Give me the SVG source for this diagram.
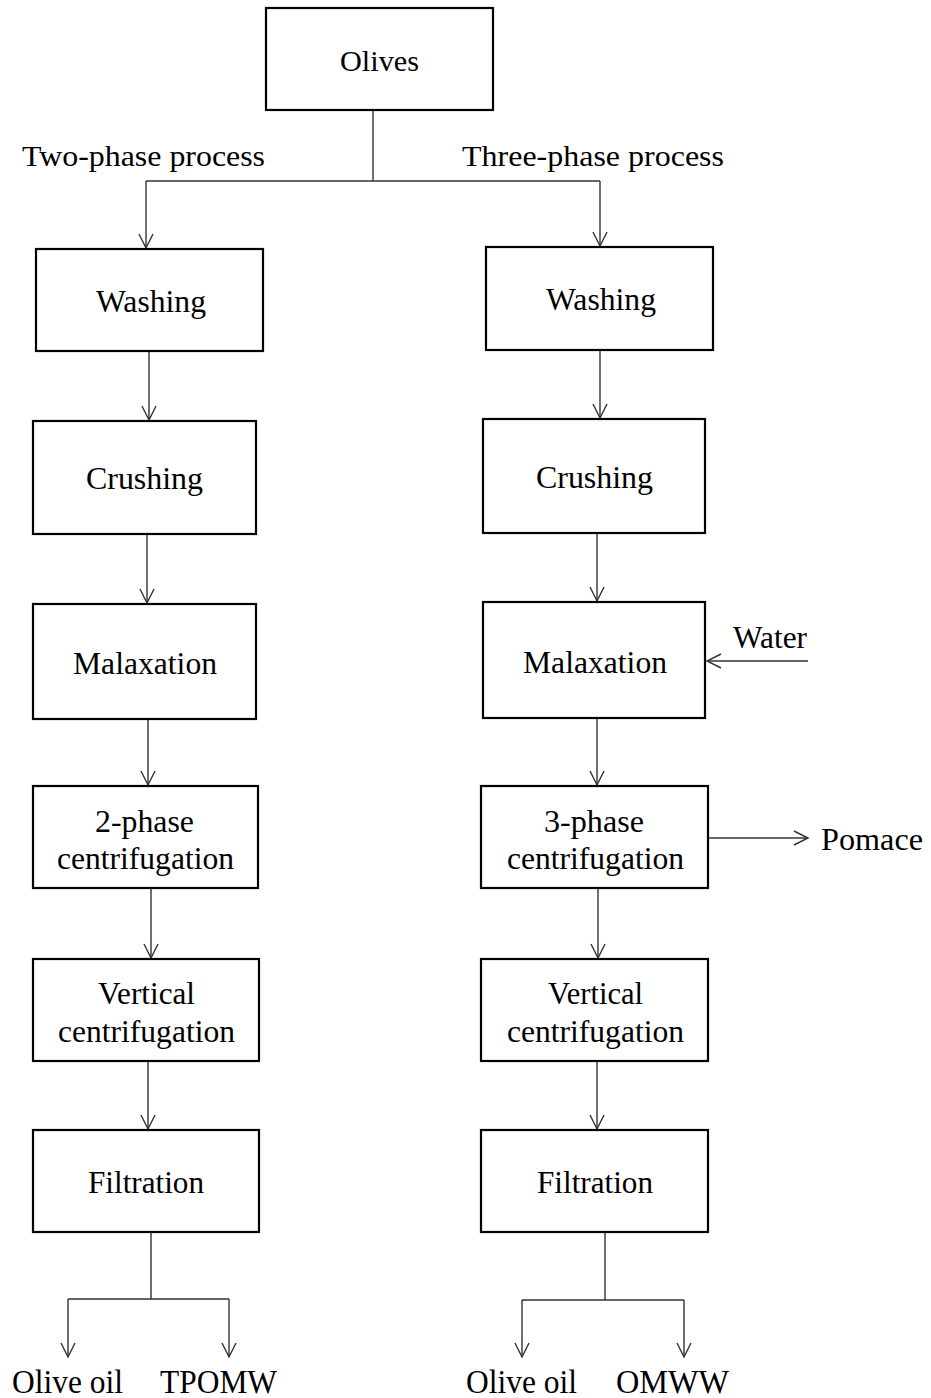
<svg xmlns="http://www.w3.org/2000/svg" width="931" height="1398" viewBox="0 0 931 1398">
<style>
.box{fill:#fff;stroke:#000;stroke-width:2.2}
.t{font-family:"Liberation Serif","Times New Roman",serif;font-size:32px;fill:#000;text-anchor:middle}
.s{font-size:29px}
.b{font-size:34px}
.c{fill:none;stroke:#333;stroke-width:1.4}
</style>
<defs>
<marker id="v" markerUnits="userSpaceOnUse" markerWidth="18" markerHeight="18" refX="15" refY="8" orient="auto" viewBox="0 0 18 16">
<path d="M1,1 L15,8 L1,15" fill="none" stroke="#333" stroke-width="1.4"/>
</marker>
</defs>
<rect width="931" height="1398" fill="#fff"/>
<g id="connectors">
<path class="c" d="M373,110 V181 M146,181 H600"/>
<path class="c" d="M146,181 V248" marker-end="url(#v)"/>
<path class="c" d="M600,181 V246" marker-end="url(#v)"/>
<path class="c" d="M149,351 V420" marker-end="url(#v)"/>
<path class="c" d="M147,534 V603" marker-end="url(#v)"/>
<path class="c" d="M148,719 V785" marker-end="url(#v)"/>
<path class="c" d="M151,888 V958" marker-end="url(#v)"/>
<path class="c" d="M148,1061 V1129" marker-end="url(#v)"/>
<path class="c" d="M151,1232 V1299 M68,1299 H229"/>
<path class="c" d="M68,1299 V1357" marker-end="url(#v)"/>
<path class="c" d="M229,1299 V1357" marker-end="url(#v)"/>
<path class="c" d="M600,350 V418" marker-end="url(#v)"/>
<path class="c" d="M597,533 V601" marker-end="url(#v)"/>
<path class="c" d="M597,718 V785" marker-end="url(#v)"/>
<path class="c" d="M598,888 V958" marker-end="url(#v)"/>
<path class="c" d="M597,1061 V1129" marker-end="url(#v)"/>
<path class="c" d="M605,1232 V1300 M522,1300 H684"/>
<path class="c" d="M522,1300 V1357" marker-end="url(#v)"/>
<path class="c" d="M684,1300 V1357" marker-end="url(#v)"/>
<path class="c" d="M808,661 H707" marker-end="url(#v)"/>
<path class="c" d="M709,838 H808" marker-end="url(#v)"/>
</g>
<g id="olives"><rect class="box" x="266" y="8" width="227" height="102"/><text class="t s" x="379.5" y="71" textLength="79" lengthAdjust="spacingAndGlyphs">Olives</text></g>
<g id="label-two-phase"><text class="t s" x="143.5" y="166" textLength="243" lengthAdjust="spacingAndGlyphs">Two-phase process</text></g>
<g id="label-three-phase"><text class="t s" x="593" y="166" textLength="262" lengthAdjust="spacingAndGlyphs">Three-phase process</text></g>

<g id="washing-2"><rect class="box" x="36" y="249" width="227" height="102"/><text class="t" x="151" y="311.5" textLength="110" lengthAdjust="spacingAndGlyphs">Washing</text></g>
<g id="crushing-2"><rect class="box" x="33" y="421" width="223" height="113"/><text class="t" x="144.5" y="489" textLength="117" lengthAdjust="spacingAndGlyphs">Crushing</text></g>
<g id="malaxation-2"><rect class="box" x="33" y="604" width="223" height="115"/><text class="t" x="145" y="674" textLength="144" lengthAdjust="spacingAndGlyphs">Malaxation</text></g>
<g id="centrifugation-2"><rect class="box" x="33" y="786" width="225" height="102"/><text class="t" x="144.5" y="832" textLength="99" lengthAdjust="spacingAndGlyphs">2-phase</text><text class="t" x="145.5" y="869" textLength="177" lengthAdjust="spacingAndGlyphs">centrifugation</text></g>
<g id="vertical-2"><rect class="box" x="33" y="959" width="226" height="102"/><text class="t" x="146.5" y="1004" textLength="97" lengthAdjust="spacingAndGlyphs">Vertical</text><text class="t" x="146.5" y="1041.5" textLength="177" lengthAdjust="spacingAndGlyphs">centrifugation</text></g>
<g id="filtration-2"><rect class="box" x="33" y="1130" width="226" height="102"/><text class="t" x="146" y="1192.5" textLength="116" lengthAdjust="spacingAndGlyphs">Filtration</text></g>
<g id="oil-2"><text class="t b" x="67.5" y="1393" textLength="111" lengthAdjust="spacingAndGlyphs">Olive oil</text></g>
<g id="tpomw"><text class="t b" x="218.5" y="1393" textLength="117" lengthAdjust="spacingAndGlyphs">TPOMW</text></g>

<g id="washing-3"><rect class="box" x="486" y="247" width="227" height="103"/><text class="t" x="601" y="310" textLength="110" lengthAdjust="spacingAndGlyphs">Washing</text></g>
<g id="crushing-3"><rect class="box" x="483" y="419" width="222" height="114"/><text class="t" x="594.5" y="488" textLength="117" lengthAdjust="spacingAndGlyphs">Crushing</text></g>
<g id="malaxation-3"><rect class="box" x="483" y="602" width="222" height="116"/><text class="t" x="595" y="673" textLength="144" lengthAdjust="spacingAndGlyphs">Malaxation</text></g>
<g id="centrifugation-3"><rect class="box" x="481" y="786" width="227" height="102"/><text class="t" x="594" y="832" textLength="100" lengthAdjust="spacingAndGlyphs">3-phase</text><text class="t" x="595.5" y="869" textLength="177" lengthAdjust="spacingAndGlyphs">centrifugation</text></g>
<g id="vertical-3"><rect class="box" x="481" y="959" width="227" height="102"/><text class="t" x="595.5" y="1004" textLength="95" lengthAdjust="spacingAndGlyphs">Vertical</text><text class="t" x="595.5" y="1041.5" textLength="177" lengthAdjust="spacingAndGlyphs">centrifugation</text></g>
<g id="filtration-3"><rect class="box" x="481" y="1130" width="227" height="102"/><text class="t" x="595" y="1192.5" textLength="116" lengthAdjust="spacingAndGlyphs">Filtration</text></g>
<g id="oil-3"><text class="t b" x="521.5" y="1393" textLength="111" lengthAdjust="spacingAndGlyphs">Olive oil</text></g>
<g id="omww"><text class="t b" x="672.5" y="1393" textLength="113" lengthAdjust="spacingAndGlyphs">OMWW</text></g>
<g id="water"><text class="t" x="770" y="648" textLength="74" lengthAdjust="spacingAndGlyphs">Water</text></g>
<g id="pomace"><text class="t" x="872" y="850" textLength="102" lengthAdjust="spacingAndGlyphs">Pomace</text></g>
</svg>
